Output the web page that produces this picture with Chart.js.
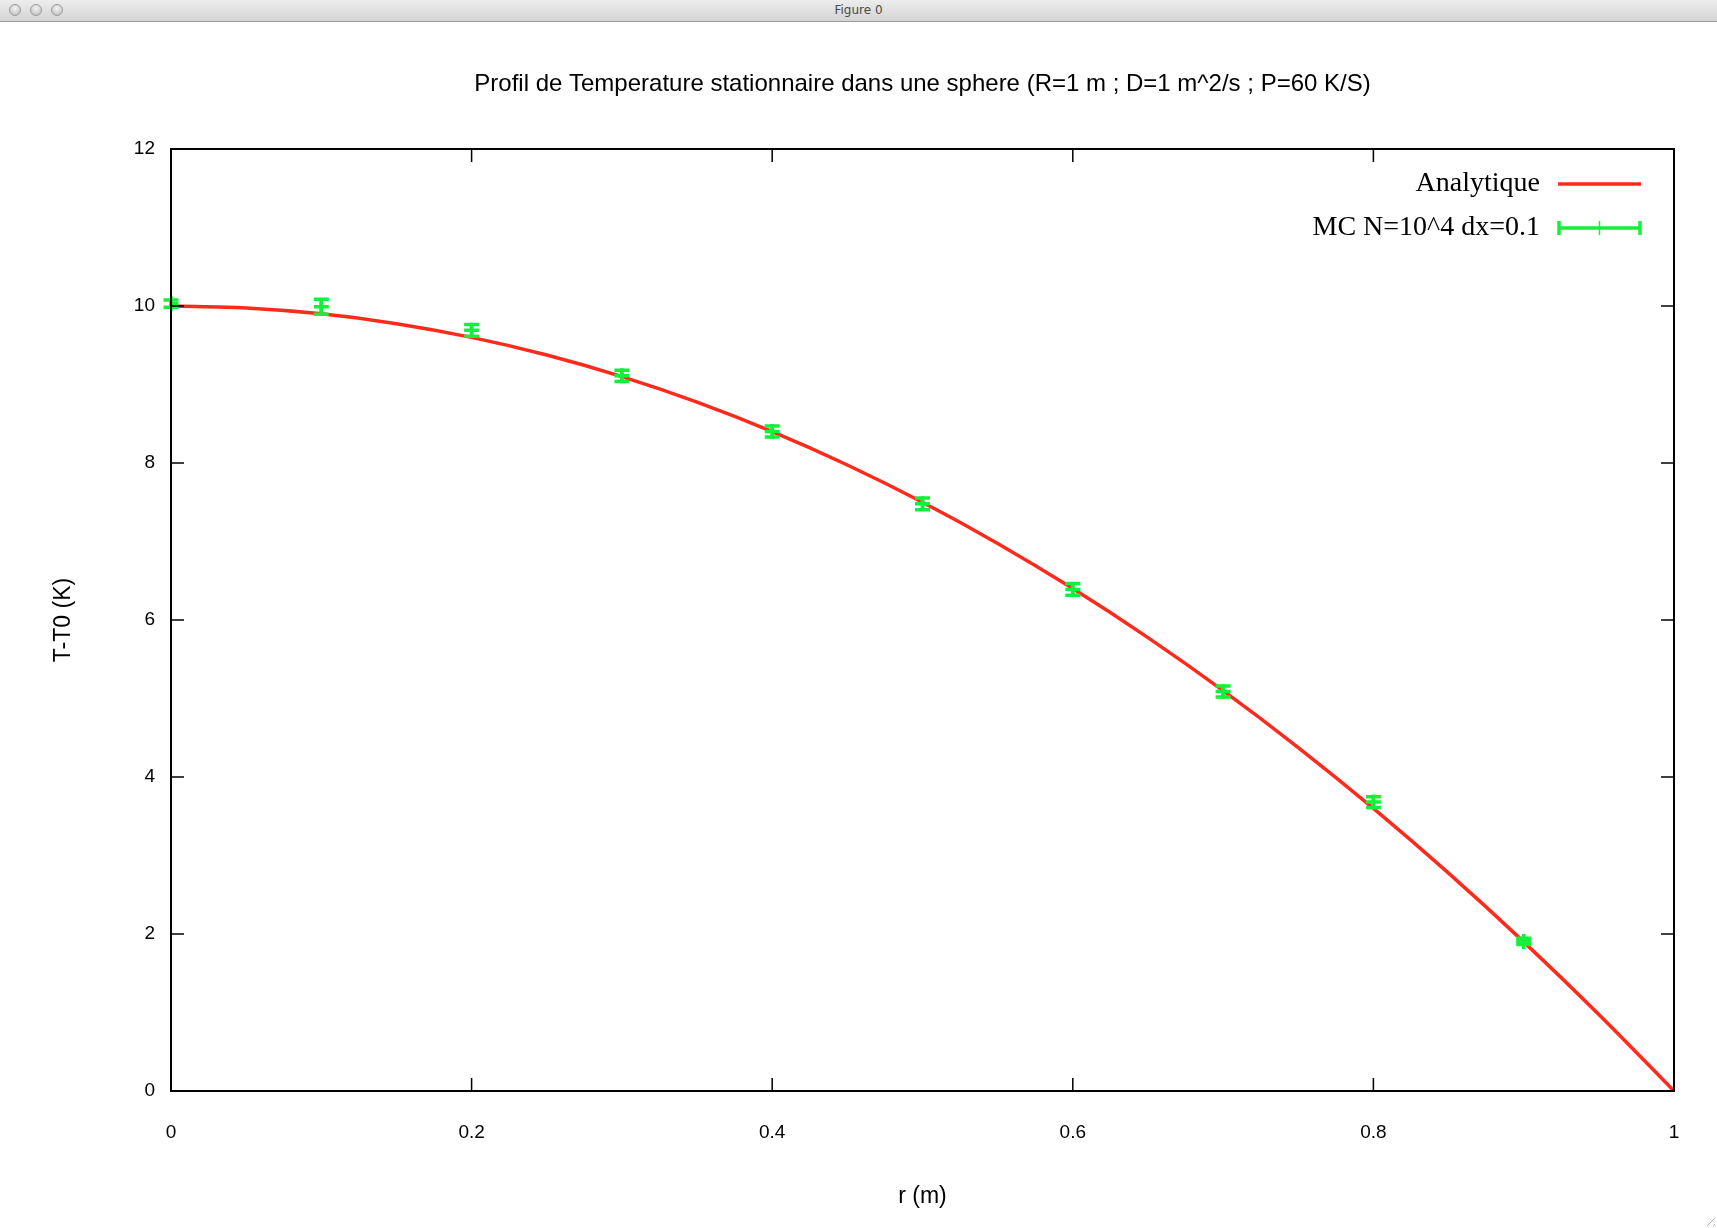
<!DOCTYPE html>
<html>
<head>
<meta charset="utf-8">
<script src="https://cdn.jsdelivr.net/npm/chart.js@4.4.1/dist/chart.umd.min.js"></script>
<style>
  html, body { margin: 0; padding: 0; background: #fff; }
  #wrap { position: relative; width: 1717px; height: 1228px; overflow: hidden; }
  #titlebar {
    position: absolute; left: 0; top: 0; width: 1717px; height: 21px;
    background: linear-gradient(#ededed, #d4d4d4);
    border-bottom: 1px solid #9a9a9a;
    font: 12px "DejaVu Sans", sans-serif; color: #4a4a4a;
    text-align: center; line-height: 21px; z-index: 2;
  }
  .btn {
    position: absolute; top: 4px; width: 12px; height: 12px; border-radius: 50%;
    background: radial-gradient(circle at 50% 35%, #f4f4f4, #b8b8b8);
    border: 1px solid #9c9c9c; box-sizing: border-box;
  }
  #grip {
    position: absolute; right: 2px; bottom: 2px; width: 12px; height: 12px;
    background: repeating-linear-gradient(135deg, transparent 0 3px, #b0b0b0 3px 4px);
    clip-path: polygon(100% 0, 100% 100%, 0 100%);
  }
  canvas { position: absolute; left: 0; top: 0; }
</style>
</head>
<body>
<div id="wrap">
  <div id="titlebar">
    <span class="btn" style="left:9px"></span>
    <span class="btn" style="left:30px"></span>
    <span class="btn" style="left:51px"></span>
    Figure 0
  </div>
  <canvas id="tempChart" width="1717" height="1228"></canvas>
  <div id="grip"></div>
</div>
<script>
  // courbe analytique
  const rAnalytic = [0, 0.05, 0.1, 0.15, 0.2, 0.25, 0.3, 0.35, 0.4, 0.45, 0.5,
                     0.55, 0.6, 0.65, 0.7, 0.75, 0.8, 0.85, 0.9, 0.95, 1];
  const tAnalytic = [10, 9.975, 9.9, 9.775, 9.6, 9.375, 9.1, 8.775, 8.4, 7.975, 7.5,
                     6.975, 6.4, 5.775, 5.1, 4.375, 3.6, 2.775, 1.9, 0.975, 0];

  // points Monte Carlo + barres d'erreur
  const rMC = [0, 0.1, 0.2, 0.3, 0.4, 0.5, 0.6, 0.7, 0.8, 0.9];
  const tMC = [10.03, 9.99, 9.69, 9.11, 8.40, 7.48, 6.39, 5.09, 3.68, 1.905];
  const errMC = [0.047, 0.095, 0.075, 0.073, 0.07, 0.074, 0.075, 0.07, 0.068, 0.04];

  const xTicks = [0, 0.2, 0.4, 0.6, 0.8, 1];
  const yTicks = [0, 2, 4, 6, 8, 10, 12];

  const chartTitle = 'Profil de Temperature stationnaire dans une sphere (R=1 m ; D=1 m^2/s ; P=60 K/S)';

  const RED = '#ff2a1c';
  const GREEN = '#14f03a';
  const TICK_LEN = 13;
  const SANS = '"Liberation Sans", Arial, sans-serif';

  // titre centre sur la zone de trace (comme gnuplot)
  const titlePlugin = {
    id: 'plotTitle',
    afterDraw(chart) {
      const { ctx, chartArea: a } = chart;
      ctx.save();
      ctx.font = '24px ' + SANS;
      ctx.fillStyle = '#000';
      ctx.textAlign = 'center';
      ctx.textBaseline = 'middle';
      ctx.fillText(chartTitle, (a.left + a.right) / 2, 84);
      ctx.restore();
    }
  };

  // cadre + graduations interieures sur les 4 cotes
  const framePlugin = {
    id: 'frame',
    afterDraw(chart) {
      const { ctx, chartArea: a, scales } = chart;
      ctx.save();
      ctx.strokeStyle = '#000';
      ctx.lineWidth = 2;
      ctx.strokeRect(a.left, a.top, a.right - a.left, a.bottom - a.top);
      ctx.lineWidth = 1.5;
      ctx.beginPath();
      xTicks.forEach(v => {
        const px = scales.x.getPixelForValue(v);
        ctx.moveTo(px, a.bottom); ctx.lineTo(px, a.bottom - TICK_LEN);
        ctx.moveTo(px, a.top); ctx.lineTo(px, a.top + TICK_LEN);
      });
      yTicks.forEach(v => {
        const py = scales.y.getPixelForValue(v);
        ctx.moveTo(a.left, py); ctx.lineTo(a.left + TICK_LEN, py);
        ctx.moveTo(a.right, py); ctx.lineTo(a.right - TICK_LEN, py);
      });
      ctx.stroke();
      ctx.restore();
    }
  };

  // barres d'erreur du jeu MC
  const errorBarPlugin = {
    id: 'errorBars',
    afterDatasetsDraw(chart) {
      const { ctx, scales } = chart;
      ctx.save();
      ctx.strokeStyle = GREEN;
      ctx.lineWidth = 3.5;
      ctx.beginPath();
      rMC.forEach((r, i) => {
        const px = scales.x.getPixelForValue(r);
        const lo = scales.y.getPixelForValue(tMC[i] - errMC[i]);
        const hi = scales.y.getPixelForValue(tMC[i] + errMC[i]);
        ctx.moveTo(px, lo); ctx.lineTo(px, hi);
        ctx.moveTo(px - 7.5, lo); ctx.lineTo(px + 7.5, lo);
        ctx.moveTo(px - 7.5, hi); ctx.lineTo(px + 7.5, hi);
      });
      ctx.stroke();
      ctx.restore();
    }
  };

  // legende a la gnuplot (texte a gauche, echantillon a droite)
  const keyPlugin = {
    id: 'gnuKey',
    afterDraw(chart) {
      const { ctx } = chart;
      const rows = [
        { label: chart.data.datasets[0].label, y: 184, kind: 'line' },
        { label: chart.data.datasets[1].label, y: 228, kind: 'err' }
      ];
      ctx.save();
      ctx.font = '28px "Liberation Serif", serif';
      ctx.fillStyle = '#000';
      ctx.textAlign = 'right';
      ctx.textBaseline = 'middle';
      rows.forEach(row => {
        ctx.fillText(row.label, 1540, row.y);
        const x0 = 1558, x1 = 1641;
        ctx.lineWidth = 3.5;
        ctx.beginPath();
        if (row.kind === 'line') {
          ctx.strokeStyle = RED;
          ctx.moveTo(x0, row.y); ctx.lineTo(x1, row.y);
        } else {
          ctx.strokeStyle = GREEN;
          ctx.moveTo(x0, row.y); ctx.lineTo(x1, row.y);
          ctx.moveTo(x0 + 1, row.y - 7); ctx.lineTo(x0 + 1, row.y + 7);
          ctx.moveTo(x1 - 1, row.y - 7); ctx.lineTo(x1 - 1, row.y + 7);
        }
        ctx.stroke();
        if (row.kind === 'err') {
          ctx.lineWidth = 1.5;
          ctx.beginPath();
          ctx.moveTo((x0 + x1) / 2, row.y - 7); ctx.lineTo((x0 + x1) / 2, row.y + 7);
          ctx.stroke();
        }
      });
      ctx.restore();
    }
  };

  const ctx = document.getElementById('tempChart').getContext('2d');

  new Chart(ctx, {
    type: 'line',
    data: {
      datasets: [
        {
          label: 'Analytique',
          data: rAnalytic.map((r, i) => ({ x: r, y: tAnalytic[i] })),
          borderColor: RED,
          borderWidth: 3.5,
          pointRadius: 0,
          cubicInterpolationMode: 'monotone',
          fill: false,
          order: 2
        },
        {
          label: 'MC N=10^4 dx=0.1',
          data: rMC.map((r, i) => ({ x: r, y: tMC[i] })),
          showLine: false,
          pointStyle: 'cross',
          pointRadius: 7.5,
          pointBorderColor: GREEN,
          pointBorderWidth: 3.5,
          order: 1
        }
      ]
    },
    options: {
      responsive: false,
      animation: false,
      devicePixelRatio: 1,
      layout: { padding: { left: 0, right: 43, top: 149, bottom: 0 } },
      plugins: {
        legend: { display: false },
        tooltip: { enabled: false },
        title: { display: false }
      },
      scales: {
        x: {
          type: 'linear',
          min: 0,
          max: 1,
          afterFit(scale) { scale.height = 137; },
          afterBuildTicks(scale) { scale.ticks = xTicks.map(v => ({ value: v })); },
          grid: { display: false, drawTicks: false },
          border: { display: false },
          ticks: {
            padding: 30.6,
            maxRotation: 0,
            color: '#000',
            font: { family: SANS, size: 19 },
            callback: v => String(v)
          },
          title: {
            display: true,
            text: 'r (m)',
            color: '#000',
            font: { family: SANS, size: 23 },
            padding: { top: 0, bottom: 17.2 }
          }
        },
        y: {
          type: 'linear',
          min: 0,
          max: 12,
          afterFit(scale) { scale.width = 171; },
          afterBuildTicks(scale) { scale.ticks = yTicks.map(v => ({ value: v })); },
          grid: { display: false, drawTicks: false },
          border: { display: false },
          ticks: {
            padding: 16,
            color: '#000',
            font: { family: SANS, size: 19 },
            callback: v => String(v)
          },
          title: {
            display: true,
            text: 'T-T0 (K)',
            color: '#000',
            font: { family: SANS, size: 23 },
            padding: { top: 50.2, bottom: 0 }
          }
        }
      }
    },
    plugins: [framePlugin, errorBarPlugin, keyPlugin, titlePlugin]
  });
</script>
</body>
</html>
